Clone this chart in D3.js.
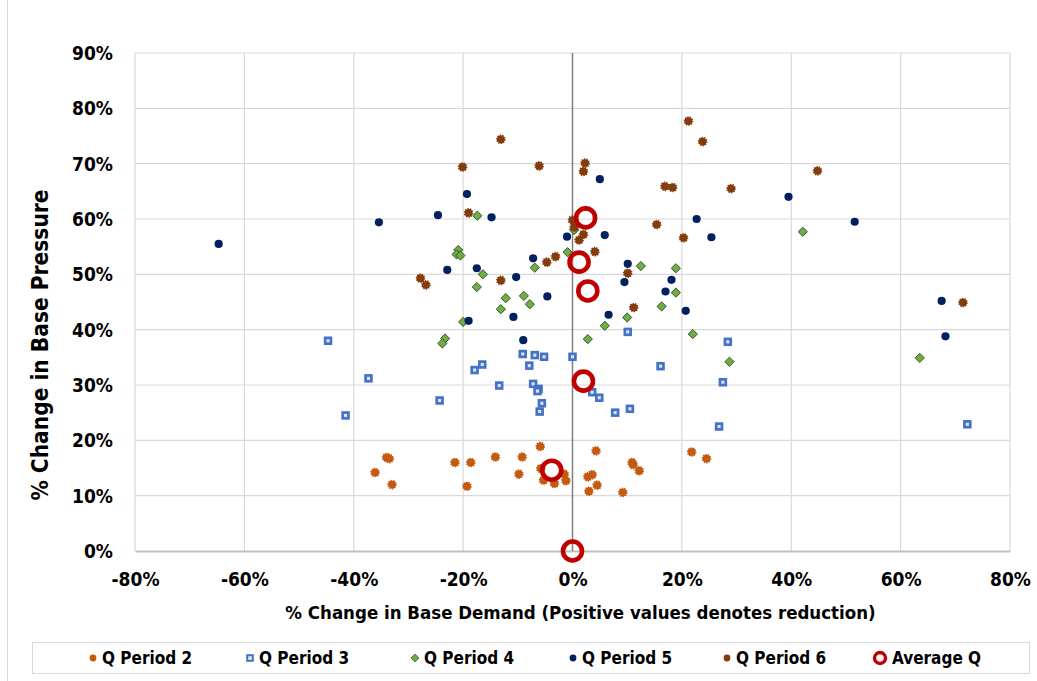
<!DOCTYPE html>
<html>
<head>
<meta charset="utf-8">
<script src="https://cdn.jsdelivr.net/npm/d3@7/dist/d3.min.js"></script>
<style>
  html, body { margin: 0; padding: 0; background: #fff; }
  svg text { font-family: "Liberation Sans Narrow", "DejaVu Sans Condensed", "Roboto Condensed", "Liberation Sans", sans-serif; font-weight: bold; fill: #000; }
</style>
</head>
<body>
<svg id="chart" width="1037" height="681"></svg>
<script>
// Each point: [% change in base demand, % change in base pressure]
const qPeriod2 = [
  [-34.0,16.9],[-33.5,16.7],[-36.1,14.2],[-33.0,12.0],[-21.5,16.0],[-18.6,16.0],
  [-19.3,11.7],[-14.1,17.0],[-9.2,17.0],[-9.8,13.9],[-5.9,18.9],[-5.8,14.9],
  [-5.3,12.8],[-3.3,12.2],[-1.5,13.9],[-1.2,12.7],[4.3,18.1],[2.8,13.4],
  [3.6,13.8],[4.5,11.9],[3.0,10.8],[9.2,10.6],[10.9,16.0],[11.1,15.6],
  [12.2,14.5],[21.8,17.9],[24.5,16.7]
];
const qPeriod3 = [
  [-44.7,38.0],[-37.3,31.2],[-41.5,24.5],[-24.3,27.2],[-17.9,32.7],[-16.5,33.7],
  [-13.4,29.9],[-9.1,35.6],[-6.9,35.4],[-5.2,35.1],[-7.9,33.5],[0.0,35.1],
  [-7.2,30.2],[-6.2,29.3],[-6.4,28.9],[-5.6,26.7],[-6.0,25.2],[3.6,28.7],
  [4.9,27.7],[7.8,25.0],[10.5,25.7],[10.1,39.6],[28.4,37.8],[16.1,33.4],
  [27.5,30.5],[26.8,22.5],[72.2,22.9]
];
const qPeriod4 = [
  [-17.4,60.6],[-20.9,54.4],[-21.2,53.6],[-20.5,53.4],[-16.4,50.0],[-17.5,47.7],
  [-12.2,45.7],[-8.9,46.1],[-13.1,43.7],[-7.8,44.6],[-6.9,51.2],[-0.9,54.0],
  [0.3,58.0],[-20.0,41.4],[-23.3,38.4],[-23.8,37.5],[2.8,38.3],[5.9,40.7],
  [10.0,42.2],[12.5,51.5],[18.9,51.1],[18.9,46.7],[16.3,44.2],[22.0,39.2],
  [28.7,34.2],[42.1,57.7],[63.5,34.9]
];
const qPeriod5 = [
  [-64.7,55.5],[-35.4,59.4],[-24.6,60.7],[-19.3,64.5],[-14.8,60.3],[-22.9,50.8],
  [-17.5,51.1],[-10.3,49.5],[-7.2,52.9],[-4.6,46.0],[-1.0,56.8],[5.0,67.2],
  [5.9,57.1],[10.1,51.9],[9.5,48.6],[-10.8,42.3],[-19.0,41.6],[6.6,42.7],
  [-9.0,38.1],[22.7,60.0],[25.4,56.7],[18.1,49.0],[17.0,46.9],[20.7,43.4],
  [39.5,64.0],[51.6,59.5],[67.5,45.2],[68.2,38.8]
];
const qPeriod6 = [
  [-13.1,74.4],[-20.1,69.4],[-6.1,69.6],[2.3,70.1],[2.0,68.6],[-19.0,61.1],
  [0.0,59.8],[0.3,58.5],[2.0,57.2],[1.2,56.2],[4.1,54.1],[-3.1,53.2],
  [-4.7,52.2],[-13.1,48.9],[-27.8,49.3],[-26.8,48.1],[10.1,50.2],[11.2,44.0],
  [16.9,65.9],[18.3,65.7],[29.0,65.5],[15.4,59.0],[20.3,56.6],[21.2,77.7],
  [23.8,74.0],[44.8,68.7],[71.4,44.9]
];
const averageQ = [
  [2.4,60.2],[1.2,52.2],[2.8,47.0],[2.0,30.7],[-3.8,14.6],[0.0,0.0]
];

const xTicks = [-80,-60,-40,-20,0,20,40,60,80];
const yTicks = [0,10,20,30,40,50,60,70,80,90];
const seriesNames = ["Q Period 2","Q Period 3","Q Period 4","Q Period 5","Q Period 6","Average Q"];
const xTitle = "% Change in Base Demand (Positive values denotes reduction)";
const yTitle = "% Change in Base Pressure";

const svg = d3.select("#chart");
const W = 1037, H = 681;
const plot = { left: 135, right: 1010, top: 53, bottom: 551 };

const x = d3.scaleLinear().domain([-80, 80]).range([plot.left, plot.right]);
const y = d3.scaleLinear().domain([0, 90]).range([plot.bottom, plot.top]);

svg.append("rect").attr("width", W).attr("height", H).attr("fill", "#fff");
// chart frame
svg.append("rect").attr("x", 7.5).attr("y", -1).attr("width", W + 2).attr("height", H + 2)
  .attr("fill", "none").attr("stroke", "#d9d9d9");

// gridlines
const grid = svg.append("g");
grid.selectAll("line.h").data(yTicks.filter(d => d > 0)).join("line")
  .attr("x1", plot.left).attr("x2", plot.right)
  .attr("y1", d => y(d)).attr("y2", d => y(d))
  .attr("stroke", "#d9d9d9").attr("stroke-width", 1.2);
grid.selectAll("line.v").data(xTicks.filter(d => d !== 0)).join("line")
  .attr("x1", d => x(d)).attr("x2", d => x(d))
  .attr("y1", plot.top).attr("y2", plot.bottom)
  .attr("stroke", "#d9d9d9").attr("stroke-width", 1.2);

// axes
const pct = d => d + "%";
const xAxis = svg.append("g").attr("transform", `translate(0,${plot.bottom})`)
  .call(d3.axisBottom(x).tickValues(xTicks).tickFormat(pct).tickSize(0).tickPadding(22));
xAxis.select(".domain").attr("stroke", "#bfbfbf").attr("stroke-width", 2);
xAxis.selectAll("text").attr("font-size", 19);

const yAxis = svg.append("g").attr("transform", `translate(${plot.left - 22},0)`)
  .call(d3.axisLeft(y).tickValues(yTicks).tickFormat(pct).tickSize(0).tickPadding(0));
yAxis.select(".domain").remove();
yAxis.selectAll("text").attr("font-size", 19).attr("dy", "0.35em");

// vertical zero line
svg.append("line")
  .attr("x1", x(0)).attr("x2", x(0)).attr("y1", plot.top).attr("y2", plot.bottom)
  .attr("stroke", "#7f7f7f").attr("stroke-width", 1.5);

// axis titles
svg.append("text").attr("x", (plot.left + plot.right) / 2 + 8).attr("y", 619)
  .attr("text-anchor", "middle").attr("font-size", 18.5).text(xTitle);
svg.append("text").attr("transform", "translate(48,345) rotate(-90)")
  .attr("text-anchor", "middle").attr("font-size", 22.5).text(yTitle);

// marker drawers
const styles = [
  { draw: (g) => g.append("circle").attr("r", 3.9).attr("fill", "#c55a11")
      .attr("stroke", "#c55a11").attr("stroke-width", 1.8).attr("stroke-dasharray", "1.3,1.1") },
  { draw: (g) => g.append("rect").attr("x", -2.9).attr("y", -2.9).attr("width", 5.8).attr("height", 5.8)
      .attr("fill", "#dce6f6").attr("stroke", "#4472c4").attr("stroke-width", 2.7) },
  { draw: (g) => g.append("path").attr("d", "M0,-4.6L4.6,0L0,4.6L-4.6,0Z")
      .attr("fill", "#70ad47").attr("stroke", "#385723").attr("stroke-width", 1) },
  { draw: (g) => g.append("circle").attr("r", 4.1).attr("fill", "#002060") },
  { draw: (g) => g.append("circle").attr("r", 3.9).attr("fill", "#843c0c")
      .attr("stroke", "#843c0c").attr("stroke-width", 1.8).attr("stroke-dasharray", "1.3,1.1") },
  { draw: (g) => g.append("circle").attr("r", 9.5).attr("fill", "none")
      .attr("stroke", "#c00000").attr("stroke-width", 4.6) }
];
const allSeries = [qPeriod2, qPeriod3, qPeriod4, qPeriod5, qPeriod6, averageQ];

allSeries.forEach((data, i) => {
  const g = svg.append("g");
  g.selectAll("g").data(data).join("g")
    .attr("transform", d => `translate(${x(d[0])},${y(d[1])})`)
    .each(function () { styles[i].draw(d3.select(this)); });
});

// legend
svg.append("rect").attr("x", 32.5).attr("y", 642.5).attr("width", 997).attr("height", 31)
  .attr("fill", "#fff").attr("stroke", "#d9d9d9");
const legendMarkers = [
  (g) => g.append("circle").attr("r", 3.4).attr("fill", "#c55a11"),
  (g) => g.append("rect").attr("x", -2.8).attr("y", -2.8).attr("width", 5.6).attr("height", 5.6)
      .attr("fill", "#dce6f6").attr("stroke", "#4472c4").attr("stroke-width", 2),
  (g) => g.append("path").attr("d", "M0,-3.9L3.9,0L0,3.9L-3.9,0Z")
      .attr("fill", "#70ad47").attr("stroke", "#385723").attr("stroke-width", 0.8),
  (g) => g.append("circle").attr("r", 3.4).attr("fill", "#002060"),
  (g) => g.append("circle").attr("r", 3.4).attr("fill", "#843c0c"),
  (g) => g.append("circle").attr("r", 5.5).attr("fill", "none").attr("stroke", "#c00000").attr("stroke-width", 3.4)
];
const legendX = [93, 250, 415, 573, 727, 880];
seriesNames.forEach((name, i) => {
  const g = svg.append("g").attr("transform", `translate(${legendX[i]},658)`);
  legendMarkers[i](g);
  g.append("text").attr("x", i === 5 ? 12 : 9).attr("dy", "0.35em").attr("font-size", 17).text(name);
});
</script>
</body>
</html>
